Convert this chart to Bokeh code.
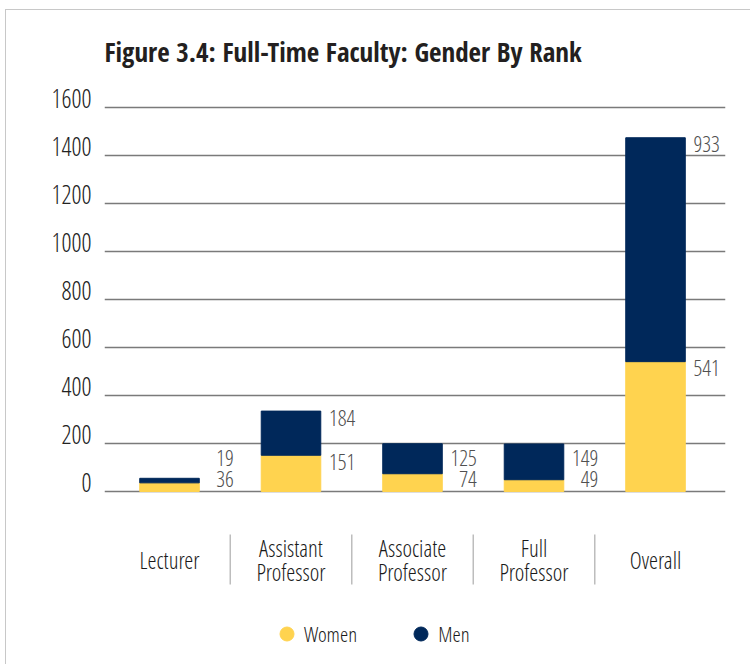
from bokeh.plotting import figure
from bokeh.models import (ColumnDataSource, Range1d, FixedTicker, Legend, LegendItem, LinearAxis)
from bokeh.core.properties import value
from bokeh.embed import file_html
from bokeh.resources import INLINE

# ---- data ----
categories = ["Lecturer", "Assistant\nProfessor", "Associate\nProfessor", "Full\nProfessor", "Overall"]
women = [36, 151, 74, 49, 541]
men = [19, 184, 125, 149, 933]
y_ticks = [0, 200, 400, 600, 800, 1000, 1200, 1400, 1600]
series_names = ["Women", "Men"]
title_text = "Figure 3.4: Full-Time Faculty: Gender By Rank"

# ---- style ----
FONT = "'Open Sans Condensed Light', 'Roboto', sans-serif"
FONT_BOLD = "'Open Sans Condensed', 'Roboto', sans-serif"
YELLOW = "#FFD34F"
NAVY = "#00285A"

xs = list(range(len(categories)))
totals = [w + m for w, m in zip(women, men)]

# label placement (computed from values, in data units)
MIN_TOP = 78
GAP = 90
NUDGE = 6
w_top = [max(w, MIN_TOP) for w in women]
m_top = [t if (t - wt) > 130 else wt + GAP for t, wt in zip(totals, w_top)]

src = ColumnDataSource(dict(
    x=xs, women=women, men=men,
    xl=[x + 0.53 for x in xs],
    yw=[v + NUDGE for v in w_top],
    ym=[v + NUDGE for v in m_top],
    tw=[str(v) for v in women],
    tm=[str(v) for v in men],
    cat=categories,
    ycat=[-285.0] * len(categories),
))

Y0, Y1 = -704.2, 1741.7
LABEL_SHIFT = 36.0  # tick labels sit on top of their gridlines

p = figure(width=745, height=655, output_backend="svg", toolbar_location=None,
           x_range=Range1d(-0.535, 4.576), y_range=Range1d(Y0, Y1),
           y_axis_location=None,
           min_border_left=98, min_border_right=26, min_border_top=63, min_border_bottom=5,
           title=title_text, margin=(9, 0, 0, 5),
           styles={"border-left": "1px solid #c8c8c8", "border-top": "1px solid #c8c8c8"})

p.title.text_font = FONT_BOLD
p.title.text_font_size = "27px"
p.title.text_font_style = "bold"
p.title.text_color = "#231f20"
p.title.standoff = 8
p.title.align = "left"

p.outline_line_color = None
p.xaxis.visible = False
p.xgrid.visible = False

ticker = FixedTicker(ticks=y_ticks)
p.ygrid.ticker = ticker
p.ygrid.grid_line_color = "#7a7a7a"
p.ygrid.grid_line_width = 1.5

p.extra_y_ranges = {"labels": Range1d(Y0 - LABEL_SHIFT, Y1 - LABEL_SHIFT)}
yax = LinearAxis(y_range_name="labels", ticker=ticker)
yax.axis_line_color = None
yax.major_tick_line_color = None
yax.minor_tick_line_color = None
yax.major_tick_out = 0
yax.major_tick_in = 0
yax.major_label_standoff = 13
yax.major_label_text_font = FONT
yax.major_label_text_font_size = "25px"
yax.major_label_text_color = "#222222"
p.add_layout(yax, "left")

p.vbar_stack(["women", "men"], x="x", width=0.49, color=[YELLOW, NAVY], source=src)

# value labels
for ycol, tcol in (("yw", "tw"), ("ym", "tm")):
    p.text(x="xl", y=ycol, text=tcol, source=src, text_align="right", text_baseline="top",
           text_font=value(FONT), text_font_size="22px", text_color="#505050")

# category labels
p.text(x="x", y="ycat", text="cat", source=src, text_align="center", text_baseline="middle",
       text_font=value(FONT), text_font_size="23px", text_color="#1a1a1a", text_line_height=0.77)

# separators between categories
sep_x = [x + 0.5 for x in xs[:-1]]
p.segment(x0=sep_x, x1=sep_x, y0=[-179.0] * len(sep_x), y1=[-387.5] * len(sep_x),
          line_color="#bdbdbd", line_width=1.5)

# legend (circle markers; one NaN row so the legend glyph has visuals)
nan = float("nan")
r_w = p.scatter(x=[nan], y=[nan], marker="circle", size=14, fill_color=YELLOW, line_color=YELLOW)
r_m = p.scatter(x=[nan], y=[nan], marker="circle", size=14, fill_color=NAVY, line_color=NAVY)
legend = Legend(items=[LegendItem(label=series_names[0], renderers=[r_w], index=0),
                       LegendItem(label=series_names[1], renderers=[r_m], index=0)],
                location=(165, 9), orientation="horizontal",
                glyph_width=35, glyph_height=35, label_standoff=-5, spacing=46,
                padding=0, margin=0,
                label_text_font=FONT, label_text_font_size="21px", label_text_color="#1a1a1a",
                border_line_color=None, background_fill_alpha=0)
p.add_layout(legend)

open("out.html", "w").write(file_html(p, INLINE))
